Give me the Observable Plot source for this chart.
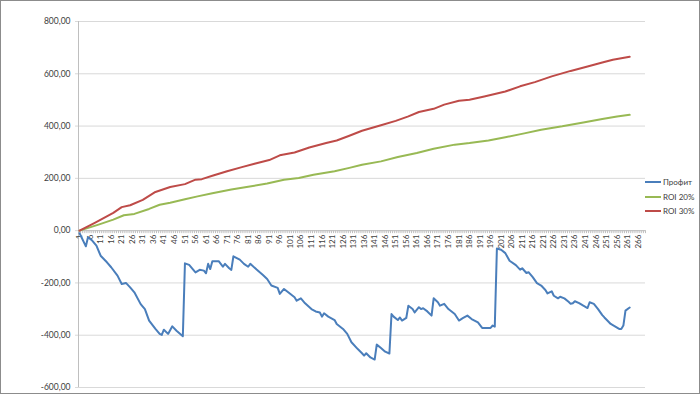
<!DOCTYPE html>
<html>
<head>
<meta charset="utf-8">
<script src="https://cdn.jsdelivr.net/npm/d3@7"></script>
<script src="https://cdn.jsdelivr.net/npm/@observablehq/plot@0.6"></script>
<style>
  html, body { margin: 0; padding: 0; background: #fff; }
</style>
</head>
<body>
<div id="chart"></div>
<script>
// ---- data ----
const seriesNames = ["Профит", "ROI 20%", "ROI 30%"];
const seriesColors = ["#4A7EBB", "#98B954", "#BE4B48"];

const profitCat = [1,4,5,7,9,11,14,16,19,21,23,25,27,30,32,34,37,39,40,41,43,45,47,50,
  51,53,56,58,60,61,62,63,64,67,69,70,72,73,74,77,79,81,82,85,88,90,92,95,96,98,100,
  103,104,106,108,111,113,115,116,117,119,122,123,126,128,130,133,135,136,137,139,141,
  142,144,146,148,149,150,152,153,154,156,157,159,160,162,163,164,166,168,169,171,172,
  174,176,179,181,183,185,187,190,192,194,196,197,198,199,201,203,205,208,210,211,213,
  214,216,218,220,222,223,225,226,228,229,231,233,234,235,236,238,240,242,243,245,247,
  249,250,253,255,257,258,259,260,262];
const profitVal = [-10,-60,-25,-38,-57,-96,-121,-140,-172,-204,-200,-217,-236,-281,-300,-344,-376,-395,-399,-379,-395,-366,-383,-404,
  -125,-131,-160,-150,-153,-163,-127,-147,-117,-117,-138,-127,-144,-150,-98,-111,-127,-138,-127,-149,-170,-185,-210,-219,-242,-223,-236,
  -255,-268,-259,-278,-300,-309,-313,-329,-316,-329,-342,-357,-376,-395,-427,-453,-469,-478,-469,-485,-493,
  -436,-449,-463,-470,-319,-329,-342,-332,-344,-334,-287,-300,-313,-293,-300,-297,-309,-325,-259,-274,-287,
  -280,-300,-319,-344,-334,-325,-338,-351,-372,-372,-372,-363,-367,-68,-73,-86,-115,-132,-149,-144,-162,
  -159,-178,-201,-210,-227,-240,-232,-249,-259,-253,-259,-272,-280,-278,-270,-277,-287,-296,-274,-280,-300,
  -323,-332,-357,-366,-376,-376,-363,-306,-294];

const roi20Cat = [1,10,17,22,27,34,39,44,51,57,64,73,81,90,98,105,112,122,129,135,144,152,161,169,179,186,195,203,212,220,230,240,249,256,262];
const roi20Val = [0,23,42,59,64,83,99,107,120,131,143,157,168,180,195,201,214,227,240,252,265,282,297,313,329,335,345,357,372,386,399,414,427,437,443];

const roi30Cat = [1,8,17,21,25,31,37,44,51,56,59,64,71,78,84,91,96,103,110,118,123,129,135,144,151,157,162,169,174,181,186,193,203,210,217,225,234,242,249,254,262];
const roi30Val = [0,29,68,90,97,118,148,167,178,195,197,210,227,243,256,270,288,299,318,335,345,363,382,403,420,437,454,466,482,497,501,513,532,552,568,590,611,628,643,654,665];

const xTickLabels = d3.range(1, 267, 5);          // 1, 6, 11, ... 266
const categoryBounds = d3.range(0, 270).map(d => d + 0.5);
const yTicks = [-600, -400, -200, 0, 200, 400, 600, 800];

// ---- build tables ----
const profit = profitCat.map((c, i) => ({cat: c, value: profitVal[i]}));
const roi20 = roi20Cat.map((c, i) => ({cat: c, value: roi20Val[i]}));
const roi30 = roi30Cat.map((c, i) => ({cat: c, value: roi30Val[i]}));

const fmt = v => (v < 0 ? "-" : "") + Math.abs(v).toFixed(2).replace(".", ",");

const plot = Plot.plot({
  width: 700,
  height: 394,
  marginLeft: 78,
  marginRight: 55,
  marginTop: 21,
  marginBottom: 7,
  x: {domain: [0.5, 269.5], axis: null},
  y: {domain: [-600, 800], axis: null},
  style: {fontFamily: "Lato, 'Open Sans', sans-serif", fontSize: "8px", background: "#fff", color: "#404040"},
  marks: [
    Plot.gridY(yTicks, {stroke: "#d9d9d9", strokeOpacity: 1, insetLeft: -3}),
    Plot.axisY(yTicks, {tickSize: 0, tickPadding: 8, tickFormat: fmt, fontSize: 8.5, fill: "#404040", label: null}),
    Plot.ruleX([0.5], {stroke: "#bfbfbf"}),
    Plot.ruleY([0], {stroke: "#bfbfbf"}),
    Plot.ruleX(categoryBounds, {x: d => d, y1: 0, y2: 0, insetBottom: -3, stroke: "#bfbfbf"}),
    Plot.text(xTickLabels, {x: d => d, y: 0, text: d => String(d), rotate: -90, textAnchor: "end", dy: 4, fontSize: 8, fill: "#404040"}),
    Plot.line(roi20, {x: "cat", y: "value", stroke: seriesColors[1], strokeWidth: 2}),
    Plot.line(roi30, {x: "cat", y: "value", stroke: seriesColors[2], strokeWidth: 2}),
    Plot.line(profit, {x: "cat", y: "value", stroke: seriesColors[0], strokeWidth: 2})
  ]
});

document.getElementById("chart").appendChild(plot);

// outer border + legend
const svg = d3.select(plot);
svg.append("rect")
  .attr("x", 0.5).attr("y", 0.5).attr("width", 699).attr("height", 393)
  .attr("fill", "none").attr("stroke", "#8c8c8c");

const legendYs = [182, 197, 211];
const lg = svg.append("g")
  .attr("font-family", "Lato, 'Open Sans', sans-serif")
  .attr("font-size", 8)
  .attr("text-anchor", "start");
seriesNames.forEach((name, i) => {
  lg.append("line")
    .attr("x1", 645).attr("x2", 661)
    .attr("y1", legendYs[i]).attr("y2", legendYs[i])
    .attr("stroke", seriesColors[i]).attr("stroke-width", 2);
  lg.append("text")
    .attr("x", 663).attr("y", legendYs[i]).attr("dy", "0.32em")
    .attr("text-anchor", "start")
    .attr("fill", "#404040").text(name);
});
</script>
</body>
</html>
